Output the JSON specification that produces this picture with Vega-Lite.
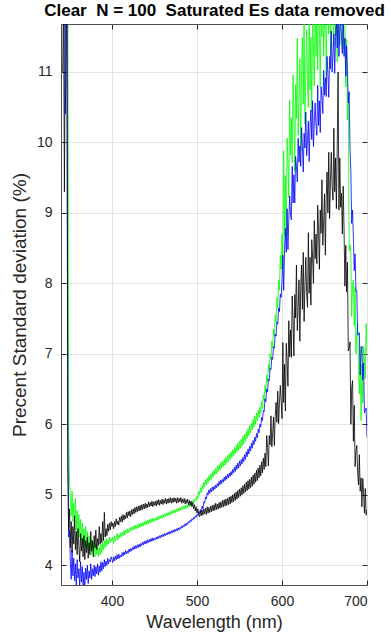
{
"$schema":"https://vega.github.io/schema/vega-lite/v6.json",
"width":306,"height":561,
"autosize":{"type":"none"},
"padding":{"left":61,"top":24,"right":24,"bottom":52},
"background":"white",
"config":{"view":{"stroke":"#4d4d4d","strokeWidth":1},"axis":{"labelFont":"Liberation Sans","titleFont":"Liberation Sans","labelColor":"#262626","titleColor":"#262626","labelFontSize":14,"titleFontSize":16,"titleFontWeight":"normal","tickColor":"#262626","domain":false,"gridColor":"#e3e3e3","gridWidth":1}},
"data":{"values":[
{"w":342,"k":11.0,"b":14,"g":14},
{"w":343,"k":12.0,"b":14,"g":14},
{"w":344,"k":9.3,"b":13,"g":14},
{"w":345,"k":11.6,"b":10.4,"g":14},
{"w":346,"k":12.4,"b":11.2,"g":13},
{"w":347,"k":11.8,"b":12.2,"g":13},
{"w":348,"k":5.4,"b":5.9,"g":12.5},
{"w":349,"k":4.5,"b":4.4,"g":5.9},
{"w":350,"k":4.8,"b":4.5,"g":5.2},
{"w":351,"k":4.25,"b":4.05,"g":4.95},
{"w":352,"k":4.62,"b":3.80,"g":4.70},
{"w":353,"k":4.18,"b":4.22,"g":5.05},
{"w":354,"k":4.55,"b":3.85,"g":4.62},
{"w":355,"k":4.30,"b":4.10,"g":4.88},
{"w":356,"k":4.70,"b":3.78,"g":4.55},
{"w":357,"k":4.22,"b":4.02,"g":4.95},
{"w":358,"k":4.48,"b":3.72,"g":4.50},
{"w":359,"k":4.15,"b":4.08,"g":4.78},
{"w":360,"k":4.52,"b":3.82,"g":4.45},
{"w":361,"k":4.28,"b":3.95,"g":4.72},
{"w":362,"k":4.05,"b":3.70,"g":4.40},
{"w":363,"k":4.45,"b":4.05,"g":4.65},
{"w":364,"k":4.20,"b":3.76,"g":4.35},
{"w":365,"k":4.38,"b":3.98,"g":4.60},
{"w":366,"k":4.12,"b":3.72,"g":4.30},
{"w":367,"k":4.42,"b":3.90,"g":4.52},
{"w":368,"k":4.08,"b":3.68,"g":4.28},
{"w":369,"k":4.35,"b":3.96,"g":4.55},
{"w":370,"k":4.18,"b":3.80,"g":4.25},
{"w":371,"k":4.40,"b":4.00,"g":4.48},
{"w":372,"k":4.10,"b":3.74,"g":4.22},
{"w":373,"k":4.32,"b":3.92,"g":4.42},
{"w":374,"k":4.15,"b":3.82,"g":4.20},
{"w":375,"k":4.48,"b":4.02,"g":4.38},
{"w":376,"k":4.20,"b":3.80,"g":4.15},
{"w":377,"k":4.35,"b":3.95,"g":4.35},
{"w":378,"k":4.12,"b":3.85,"g":4.18},
{"w":379,"k":4.42,"b":4.00,"g":4.32},
{"w":380,"k":4.25,"b":3.84,"g":4.12},
{"w":381,"k":4.50,"b":3.98,"g":4.30},
{"w":382,"k":4.22,"b":3.88,"g":4.15},
{"w":383,"k":4.38,"b":4.02,"g":4.28},
{"w":384,"k":4.28,"b":3.86,"g":4.12},
{"w":385,"k":4.55,"b":3.99,"g":4.25},
{"w":386,"k":4.30,"b":3.90,"g":4.15},
{"w":387,"k":4.45,"b":4.05,"g":4.30},
{"w":388,"k":4.32,"b":3.92,"g":4.18},
{"w":389,"k":4.62,"b":4.04,"g":4.32},
{"w":390,"k":4.35,"b":3.95,"g":4.22},
{"w":391,"k":4.75,"b":4.08,"g":4.35},
{"w":392,"k":4.40,"b":3.98,"g":4.25},
{"w":393,"k":4.52,"b":4.06,"g":4.38},
{"w":394,"k":4.42,"b":4.00,"g":4.28},
{"w":395,"k":4.58,"b":4.10,"g":4.36},
{"w":396,"k":4.48,"b":4.02,"g":4.30},
{"w":397,"k":4.60,"b":4.08,"g":4.40},
{"w":398,"k":4.50,"b":4.05,"g":4.32},
{"w":399,"k":4.62,"b":4.12,"g":4.38},
{"w":400,"k":4.55,"b":4.08,"g":4.35},
{"w":401,"k":4.60,"b":4.04,"g":4.40},
{"w":402,"k":4.52,"b":4.12,"g":4.31},
{"w":403,"k":4.62,"b":4.06,"g":4.42},
{"w":404,"k":4.55,"b":4.13,"g":4.34},
{"w":405,"k":4.66,"b":4.08,"g":4.38},
{"w":406,"k":4.58,"b":4.15,"g":4.45},
{"w":407,"k":4.63,"b":4.09,"g":4.36},
{"w":408,"k":4.57,"b":4.16,"g":4.43},
{"w":409,"k":4.68,"b":4.10,"g":4.39},
{"w":410,"k":4.62,"b":4.14,"g":4.46},
{"w":411,"k":4.70,"b":4.12,"g":4.40},
{"w":412,"k":4.61,"b":4.18,"g":4.47},
{"w":413,"k":4.72,"b":4.13,"g":4.42},
{"w":414,"k":4.64,"b":4.19,"g":4.49},
{"w":415,"k":4.71,"b":4.15,"g":4.43},
{"w":416,"k":4.66,"b":4.21,"g":4.50},
{"w":417,"k":4.75,"b":4.16,"g":4.45},
{"w":418,"k":4.67,"b":4.20,"g":4.52},
{"w":419,"k":4.76,"b":4.17,"g":4.46},
{"w":420,"k":4.70,"b":4.23,"g":4.51},
{"w":421,"k":4.77,"b":4.19,"g":4.48},
{"w":422,"k":4.69,"b":4.24,"g":4.54},
{"w":423,"k":4.79,"b":4.20,"g":4.49},
{"w":424,"k":4.72,"b":4.25,"g":4.55},
{"w":425,"k":4.80,"b":4.22,"g":4.50},
{"w":426,"k":4.73,"b":4.27,"g":4.56},
{"w":427,"k":4.82,"b":4.23,"g":4.51},
{"w":428,"k":4.75,"b":4.28,"g":4.57},
{"w":429,"k":4.83,"b":4.24,"g":4.52},
{"w":430,"k":4.76,"b":4.29,"g":4.58},
{"w":431,"k":4.84,"b":4.25,"g":4.53},
{"w":432,"k":4.77,"b":4.30,"g":4.59},
{"w":433,"k":4.85,"b":4.26,"g":4.54},
{"w":434,"k":4.78,"b":4.31,"g":4.60},
{"w":435,"k":4.86,"b":4.28,"g":4.55},
{"w":436,"k":4.79,"b":4.33,"g":4.61},
{"w":437,"k":4.87,"b":4.29,"g":4.56},
{"w":438,"k":4.80,"b":4.34,"g":4.62},
{"w":439,"k":4.88,"b":4.30,"g":4.57},
{"w":440,"k":4.81,"b":4.35,"g":4.63},
{"w":441,"k":4.87,"b":4.31,"g":4.58},
{"w":442,"k":4.82,"b":4.36,"g":4.64},
{"w":443,"k":4.90,"b":4.32,"g":4.59},
{"w":444,"k":4.83,"b":4.37,"g":4.65},
{"w":445,"k":4.89,"b":4.33,"g":4.60},
{"w":446,"k":4.84,"b":4.38,"g":4.66},
{"w":447,"k":4.91,"b":4.34,"g":4.61},
{"w":448,"k":4.83,"b":4.39,"g":4.67},
{"w":449,"k":4.90,"b":4.35,"g":4.62},
{"w":450,"k":4.85,"b":4.38,"g":4.66},
{"w":451,"k":4.91,"b":4.36,"g":4.63},
{"w":452,"k":4.84,"b":4.40,"g":4.68},
{"w":453,"k":4.92,"b":4.37,"g":4.64},
{"w":454,"k":4.86,"b":4.41,"g":4.69},
{"w":455,"k":4.93,"b":4.38,"g":4.65},
{"w":456,"k":4.85,"b":4.42,"g":4.70},
{"w":457,"k":4.92,"b":4.39,"g":4.66},
{"w":458,"k":4.87,"b":4.43,"g":4.71},
{"w":459,"k":4.94,"b":4.40,"g":4.67},
{"w":460,"k":4.86,"b":4.44,"g":4.72},
{"w":461,"k":4.93,"b":4.41,"g":4.68},
{"w":462,"k":4.88,"b":4.45,"g":4.73},
{"w":463,"k":4.95,"b":4.42,"g":4.69},
{"w":464,"k":4.87,"b":4.46,"g":4.74},
{"w":465,"k":4.94,"b":4.43,"g":4.70},
{"w":466,"k":4.88,"b":4.47,"g":4.75},
{"w":467,"k":4.95,"b":4.44,"g":4.71},
{"w":468,"k":4.89,"b":4.48,"g":4.76},
{"w":469,"k":4.96,"b":4.45,"g":4.72},
{"w":470,"k":4.88,"b":4.49,"g":4.77},
{"w":471,"k":4.95,"b":4.46,"g":4.73},
{"w":472,"k":4.89,"b":4.50,"g":4.78},
{"w":473,"k":4.96,"b":4.47,"g":4.74},
{"w":474,"k":4.90,"b":4.51,"g":4.79},
{"w":475,"k":4.95,"b":4.48,"g":4.75},
{"w":476,"k":4.88,"b":4.52,"g":4.80},
{"w":477,"k":4.96,"b":4.49,"g":4.76},
{"w":478,"k":4.89,"b":4.53,"g":4.81},
{"w":479,"k":4.95,"b":4.50,"g":4.77},
{"w":480,"k":4.90,"b":4.54,"g":4.82},
{"w":481,"k":4.96,"b":4.52,"g":4.78},
{"w":482,"k":4.88,"b":4.56,"g":4.83},
{"w":483,"k":4.94,"b":4.53,"g":4.79},
{"w":484,"k":4.89,"b":4.57,"g":4.84},
{"w":485,"k":4.95,"b":4.55,"g":4.80},
{"w":486,"k":4.87,"b":4.59,"g":4.85},
{"w":487,"k":4.93,"b":4.56,"g":4.81},
{"w":488,"k":4.88,"b":4.60,"g":4.86},
{"w":489,"k":4.94,"b":4.58,"g":4.82},
{"w":490,"k":4.86,"b":4.62,"g":4.87},
{"w":491,"k":4.92,"b":4.60,"g":4.83},
{"w":492,"k":4.85,"b":4.64,"g":4.89},
{"w":493,"k":4.91,"b":4.62,"g":4.85},
{"w":494,"k":4.83,"b":4.66,"g":4.91},
{"w":495,"k":4.89,"b":4.64,"g":4.87},
{"w":496,"k":4.80,"b":4.68,"g":4.93},
{"w":497,"k":4.86,"b":4.66,"g":4.89},
{"w":498,"k":4.77,"b":4.70,"g":4.95},
{"w":499,"k":4.83,"b":4.68,"g":4.92},
{"w":500,"k":4.74,"b":4.72,"g":4.98},
{"w":501,"k":4.80,"b":4.70,"g":4.95},
{"w":502,"k":4.72,"b":4.76,"g":5.05},
{"w":503,"k":4.69,"b":4.73,"g":5.00},
{"w":504,"k":4.77,"b":4.79,"g":5.10},
{"w":505,"k":4.70,"b":4.76,"g":5.03},
{"w":506,"k":4.78,"b":4.84,"g":5.13},
{"w":507,"k":4.71,"b":4.80,"g":5.08},
{"w":508,"k":4.80,"b":4.90,"g":5.18},
{"w":509,"k":4.73,"b":4.88,"g":5.11},
{"w":510,"k":4.81,"b":4.97,"g":5.21},
{"w":511,"k":4.72,"b":4.94,"g":5.14},
{"w":512,"k":4.83,"b":5.03,"g":5.24},
{"w":513,"k":4.74,"b":5.00,"g":5.17},
{"w":514,"k":4.82,"b":5.07,"g":5.27},
{"w":515,"k":4.75,"b":5.02,"g":5.20},
{"w":516,"k":4.84,"b":5.09,"g":5.30},
{"w":517,"k":4.76,"b":5.04,"g":5.22},
{"w":518,"k":4.85,"b":5.11,"g":5.32},
{"w":519,"k":4.77,"b":5.06,"g":5.25},
{"w":520,"k":4.86,"b":5.12,"g":5.35},
{"w":521,"k":4.78,"b":5.08,"g":5.28},
{"w":522,"k":4.88,"b":5.14,"g":5.38},
{"w":523,"k":4.79,"b":5.10,"g":5.30},
{"w":524,"k":4.87,"b":5.16,"g":5.41},
{"w":525,"k":4.80,"b":5.12,"g":5.33},
{"w":526,"k":4.89,"b":5.19,"g":5.43},
{"w":527,"k":4.81,"b":5.14,"g":5.35},
{"w":528,"k":4.90,"b":5.21,"g":5.46},
{"w":529,"k":4.82,"b":5.16,"g":5.38},
{"w":530,"k":4.92,"b":5.22,"g":5.48},
{"w":531,"k":4.83,"b":5.18,"g":5.40},
{"w":532,"k":4.93,"b":5.25,"g":5.50},
{"w":533,"k":4.84,"b":5.20,"g":5.42},
{"w":534,"k":4.94,"b":5.27,"g":5.53},
{"w":535,"k":4.85,"b":5.22,"g":5.45},
{"w":536,"k":4.95,"b":5.29,"g":5.56},
{"w":537,"k":4.86,"b":5.24,"g":5.47},
{"w":538,"k":4.97,"b":5.31,"g":5.58},
{"w":539,"k":4.87,"b":5.26,"g":5.50},
{"w":540,"k":4.98,"b":5.33,"g":5.61},
{"w":541,"k":4.89,"b":5.28,"g":5.53},
{"w":542,"k":5.00,"b":5.36,"g":5.64},
{"w":543,"k":4.90,"b":5.31,"g":5.55},
{"w":544,"k":5.02,"b":5.39,"g":5.67},
{"w":545,"k":4.92,"b":5.33,"g":5.58},
{"w":546,"k":5.04,"b":5.42,"g":5.70},
{"w":547,"k":4.94,"b":5.36,"g":5.61},
{"w":548,"k":5.06,"b":5.45,"g":5.73},
{"w":549,"k":4.96,"b":5.38,"g":5.63},
{"w":550,"k":5.08,"b":5.48,"g":5.76},
{"w":551,"k":4.98,"b":5.41,"g":5.66},
{"w":552,"k":5.10,"b":5.50,"g":5.79},
{"w":553,"k":5.00,"b":5.44,"g":5.69},
{"w":554,"k":5.13,"b":5.53,"g":5.83},
{"w":555,"k":5.02,"b":5.47,"g":5.72},
{"w":556,"k":5.15,"b":5.57,"g":5.86},
{"w":557,"k":5.04,"b":5.50,"g":5.76},
{"w":558,"k":5.18,"b":5.61,"g":5.90},
{"w":559,"k":5.06,"b":5.54,"g":5.80},
{"w":560,"k":5.20,"b":5.65,"g":5.94},
{"w":561,"k":5.08,"b":5.58,"g":5.84},
{"w":562,"k":5.22,"b":5.69,"g":5.98},
{"w":563,"k":5.10,"b":5.62,"g":5.88},
{"w":564,"k":5.25,"b":5.73,"g":6.02},
{"w":565,"k":5.12,"b":5.66,"g":5.92},
{"w":566,"k":5.28,"b":5.77,"g":6.07},
{"w":567,"k":5.15,"b":5.71,"g":5.96},
{"w":568,"k":5.31,"b":5.82,"g":6.12},
{"w":569,"k":5.18,"b":5.76,"g":6.00},
{"w":570,"k":5.35,"b":5.87,"g":6.16},
{"w":571,"k":5.20,"b":5.81,"g":6.05},
{"w":572,"k":5.38,"b":5.93,"g":6.20},
{"w":573,"k":5.24,"b":5.88,"g":6.10},
{"w":574,"k":5.42,"b":6.00,"g":6.25},
{"w":575,"k":5.27,"b":5.96,"g":6.16},
{"w":576,"k":5.47,"b":6.10,"g":6.32},
{"w":577,"k":5.31,"b":6.05,"g":6.22},
{"w":578,"k":5.52,"b":6.20,"g":6.42},
{"w":579,"k":5.36,"b":6.18,"g":6.33},
{"w":580,"k":5.59,"b":6.36,"g":6.55},
{"w":581,"k":5.40,"b":6.32,"g":6.45},
{"w":582,"k":5.84,"b":6.50,"g":6.70},
{"w":583,"k":5.67,"b":6.46,"g":6.60},
{"w":584,"k":5.41,"b":6.64,"g":6.85},
{"w":585,"k":5.84,"b":6.62,"g":6.75},
{"w":586,"k":5.71,"b":6.80,"g":7.00},
{"w":587,"k":6.12,"b":6.78,"g":6.92},
{"w":588,"k":5.68,"b":6.95,"g":7.18},
{"w":589,"k":5.87,"b":6.92,"g":7.08},
{"w":590,"k":6.10,"b":7.10,"g":7.35},
{"w":591,"k":5.70,"b":7.08,"g":7.25},
{"w":592,"k":6.11,"b":7.28,"g":7.55},
{"w":593,"k":6.31,"b":7.25,"g":7.45},
{"w":594,"k":6.03,"b":7.45,"g":7.80},
{"w":595,"k":6.47,"b":7.42,"g":7.65},
{"w":596,"k":6.01,"b":7.65,"g":8.05},
{"w":597,"k":6.30,"b":7.60,"g":7.90},
{"w":598,"k":6.55,"b":7.85,"g":8.40},
{"w":599,"k":6.34,"b":7.80,"g":8.20},
{"w":600,"k":6.08,"b":8.05,"g":8.70},
{"w":601,"k":7.16,"b":8.40,"g":8.21},
{"w":602,"k":6.31,"b":7.90,"g":9.88},
{"w":603,"k":6.85,"b":8.48,"g":8.67},
{"w":604,"k":6.19,"b":8.78,"g":9.53},
{"w":605,"k":7.15,"b":8.44,"g":8.59},
{"w":606,"k":6.90,"b":9.06,"g":10.06},
{"w":607,"k":6.54,"b":8.48,"g":9.73},
{"w":608,"k":7.47,"b":8.90,"g":9.22},
{"w":609,"k":6.96,"b":9.24,"g":10.60},
{"w":610,"k":7.34,"b":8.98,"g":9.82},
{"w":611,"k":6.95,"b":8.90,"g":10.35},
{"w":612,"k":7.82,"b":9.66,"g":9.71},
{"w":613,"k":7.49,"b":9.14,"g":10.96},
{"w":614,"k":6.97,"b":9.54,"g":10.41},
{"w":615,"k":7.84,"b":9.14,"g":9.59},
{"w":616,"k":7.51,"b":9.80,"g":10.82},
{"w":617,"k":8.26,"b":9.66,"g":10.34},
{"w":618,"k":7.33,"b":9.44,"g":11.48},
{"w":619,"k":7.66,"b":10.06,"g":10.10},
{"w":620,"k":8.05,"b":9.72,"g":10.61},
{"w":621,"k":7.18,"b":9.95,"g":11.19},
{"w":622,"k":7.93,"b":9.66,"g":9.88},
{"w":623,"k":8.26,"b":10.21,"g":11.00},
{"w":624,"k":7.63,"b":9.95,"g":11.49},
{"w":625,"k":8.44,"b":9.58,"g":10.54},
{"w":626,"k":7.46,"b":10.13,"g":11.75},
{"w":627,"k":7.97,"b":9.92,"g":10.26},
{"w":628,"k":8.37,"b":10.43,"g":11.02},
{"w":629,"k":7.87,"b":9.81,"g":11.60},
{"w":630,"k":7.66,"b":10.04,"g":10.83},
{"w":631,"k":8.72,"b":10.30,"g":10.50},
{"w":632,"k":7.86,"b":9.73,"g":12.06},
{"w":633,"k":8.37,"b":10.23,"g":10.74},
{"w":634,"k":7.69,"b":10.46,"g":11.49},
{"w":635,"k":8.62,"b":10.04,"g":10.44},
{"w":636,"k":8.36,"b":10.59,"g":11.82},
{"w":637,"k":8.00,"b":9.94,"g":11.40},
{"w":638,"k":8.89,"b":10.29,"g":10.80},
{"w":639,"k":8.35,"b":10.56,"g":12.09},
{"w":640,"k":8.70,"b":10.23,"g":11.22},
{"w":641,"k":8.28,"b":10.10,"g":11.71},
{"w":642,"k":9.11,"b":10.81,"g":11.03},
{"w":643,"k":8.75,"b":10.24,"g":12.24},
{"w":644,"k":8.20,"b":10.59,"g":11.65},
{"w":645,"k":9.04,"b":10.14,"g":10.79},
{"w":646,"k":8.71,"b":10.79,"g":12.00},
{"w":647,"k":9.47,"b":10.64,"g":11.50},
{"w":648,"k":8.54,"b":10.41,"g":12.62},
{"w":649,"k":8.87,"b":11.02,"g":11.22},
{"w":650,"k":9.27,"b":10.67,"g":11.71},
{"w":651,"k":8.40,"b":10.92,"g":12.27},
{"w":652,"k":9.20,"b":10.65,"g":10.94},
{"w":653,"k":9.58,"b":11.22,"g":12.04},
{"w":654,"k":9.00,"b":10.99,"g":12.51},
{"w":655,"k":9.86,"b":10.64,"g":11.54},
{"w":656,"k":8.92,"b":11.22,"g":12.73},
{"w":657,"k":9.45,"b":11.04,"g":11.22},
{"w":658,"k":9.86,"b":11.58,"g":11.96},
{"w":659,"k":9.37,"b":11.00,"g":12.52},
{"w":660,"k":9.18,"b":11.26,"g":11.73},
{"w":661,"k":10.20,"b":11.54,"g":11.36},
{"w":662,"k":9.30,"b":10.98,"g":12.88},
{"w":663,"k":9.78,"b":11.50,"g":11.52},
{"w":664,"k":9.06,"b":11.74,"g":12.23},
{"w":665,"k":9.96,"b":11.34,"g":11.14},
{"w":666,"k":11.00,"b":11.88,"g":12.48},
{"w":667,"k":9.04,"b":11.22,"g":12.02},
{"w":668,"k":9.78,"b":11.56,"g":11.38},
{"w":669,"k":9.08,"b":11.82,"g":12.63},
{"w":670,"k":9.28,"b":11.48,"g":11.72},
{"w":671,"k":8.70,"b":11.26,"g":12.11},
{"w":672,"k":9.38,"b":11.88,"g":11.33},
{"w":673,"k":8.76,"b":11.22,"g":12.44},
{"w":674,"k":7.96,"b":11.48,"g":11.75},
{"w":675,"k":8.54,"b":10.94,"g":10.79},
{"w":676,"k":7.88,"b":11.37,"g":11.46},
{"w":677,"k":8.30,"b":11.01,"g":10.32},
{"w":678,"k":7.04,"b":10.56,"g":10.70},
{"w":679,"k":7.07,"b":10.72,"g":8.46},
{"w":680,"k":7.17,"b":9.92,"g":8.55},
{"w":681,"k":6.00,"b":9.59,"g":8.45},
{"w":682,"k":6.52,"b":8.85,"g":7.53},
{"w":683,"k":6.62,"b":9.04,"g":7.97},
{"w":684,"k":5.76,"b":8.63,"g":8.05},
{"w":685,"k":6.27,"b":8.18,"g":7.40},
{"w":686,"k":5.40,"b":8.42,"g":7.95},
{"w":687,"k":5.62,"b":7.89,"g":7.00},
{"w":688,"k":5.70,"b":7.90,"g":7.30},
{"w":689,"k":5.32,"b":7.27,"g":7.43},
{"w":690,"k":5.14,"b":7.27,"g":6.80},
{"w":691,"k":5.57,"b":7.30,"g":6.43},
{"w":692,"k":5.05,"b":6.70,"g":7.10},
{"w":693,"k":5.24,"b":7.01,"g":6.05},
{"w":694,"k":4.83,"b":7.11,"g":6.85},
{"w":695,"k":5.23,"b":6.63,"g":6.30},
{"w":696,"k":5.03,"b":6.87,"g":7.10},
{"w":697,"k":4.74,"b":6.16,"g":6.93},
{"w":698,"k":5.09,"b":6.20,"g":6.65},
{"w":699,"k":4.71,"b":6.23,"g":7.43},
{"w":700,"k":4.79,"b":5.81,"g":7.00}
]},
"transform":[{"fold":["g","b","k"],"as":["s","v"]}],
"layer":[
{"mark":{"type":"line","strokeWidth":0.8,"clip":true},
 "encoding":{
  "x":{"field":"w","type":"quantitative","scale":{"domain":[340,700],"nice":false,"zero":false},
       "axis":{"orient":"bottom","values":[400,500,600,700],"grid":true,"tickSize":-5,"labelPadding":14,"title":"Wavelength (nm)","titleFontSize":18,"titlePadding":5}},
  "y":{"field":"v","type":"quantitative","scale":{"domain":[3.72,11.68],"nice":false,"zero":false},
       "axis":{"orient":"left","values":[4,5,6,7,8,9,10,11],"grid":true,"tickSize":-5,"labelPadding":14,"title":"Precent Standard deviation (%)","titleFontSize":19,"titlePadding":7}},
  "color":{"field":"s","type":"nominal","scale":{"domain":["g","b","k"],"range":["#00ff00","#0000ff","#000000"]},"legend":null},
  "order":{"field":"w","type":"quantitative"}
 }},
{"mark":{"type":"point","opacity":0},
 "encoding":{
  "x":{"field":"w","type":"quantitative","scale":{"domain":[340,700],"nice":false,"zero":false},
       "axis":{"orient":"top","values":[400,500,600,700],"grid":false,"tickSize":-5,"labels":false,"title":"Clear\u00a0 N = 100\u00a0 Saturated Es data removed","titleFontWeight":"bold","titleFontSize":17,"titleColor":"#000000","titlePadding":4}},
  "y":{"field":"v","type":"quantitative","scale":{"domain":[3.72,11.68],"nice":false,"zero":false},
       "axis":{"orient":"right","values":[4,5,6,7,8,9,10,11],"grid":false,"tickSize":-5,"labels":false,"title":null}}
 }}
],
"resolve":{"axis":{"x":"independent","y":"independent"}}
}
